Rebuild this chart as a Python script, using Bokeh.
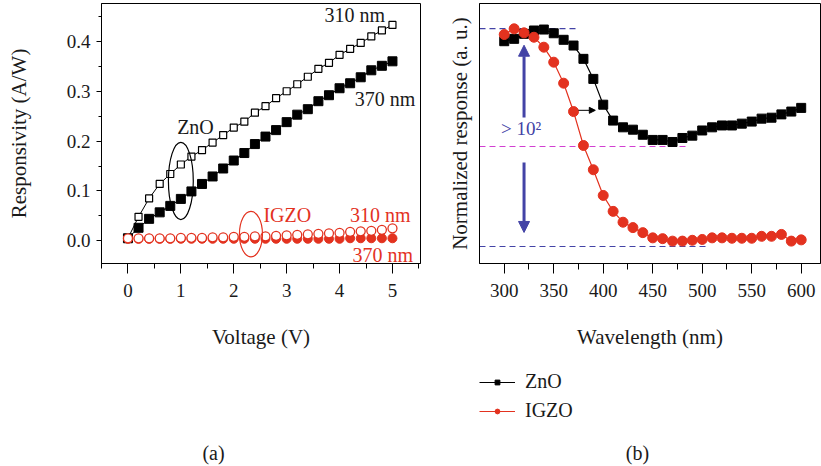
from bokeh.plotting import figure
from bokeh.layouts import row, column
from bokeh.models import (Range1d, Label, Arrow, NormalHead, Legend, LegendItem,
                          FixedTicker, NumeralTickFormatter)
from bokeh.embed import file_html
from bokeh.resources import INLINE

FONT = "Liberation Serif"
FONT_Q = "'Liberation Serif', serif"
RED = "#e3321f"
BLUE = "#4343a6"
MAGENTA = "#d23fd2"
INK = "#1a1a1a"
NAN = float("nan")

# ---------------- data: panel (a) ----------------
voltage = [0.0, 0.2, 0.4, 0.6, 0.8, 1.0, 1.2, 1.4, 1.6, 1.8, 2.0, 2.2, 2.4,
           2.6, 2.8, 3.0, 3.2, 3.4, 3.6, 3.8, 4.0, 4.2, 4.4, 4.6, 4.8, 5.0]
zno_310 = [0.005, 0.048, 0.085, 0.114, 0.134, 0.153, 0.169, 0.182, 0.197, 0.212,
           0.227, 0.239, 0.257, 0.270, 0.286, 0.300, 0.314, 0.329, 0.345, 0.357,
           0.373, 0.385, 0.397, 0.410, 0.422, 0.433]
zno_370 = [0.005, 0.026, 0.044, 0.057, 0.070, 0.084, 0.099, 0.114, 0.129, 0.145,
           0.161, 0.176, 0.194, 0.209, 0.222, 0.238, 0.253, 0.264, 0.280, 0.292,
           0.306, 0.316, 0.328, 0.342, 0.351, 0.360]
igzo_310 = [0.005, 0.005, 0.005, 0.005, 0.005, 0.006, 0.006, 0.006, 0.007, 0.007,
            0.008, 0.008, 0.009, 0.009, 0.010, 0.011, 0.012, 0.013, 0.014, 0.015,
            0.016, 0.018, 0.019, 0.020, 0.022, 0.025]
igzo_370 = [0.004, 0.004, 0.004, 0.004, 0.004, 0.004, 0.004, 0.004, 0.004, 0.004,
            0.004, 0.004, 0.004, 0.004, 0.004, 0.004, 0.004, 0.004, 0.004, 0.004,
            0.004, 0.005, 0.005, 0.005, 0.005, 0.005]
a_xticks = [0, 1, 2, 3, 4, 5]
a_xminor = [-0.5, 0.5, 1.5, 2.5, 3.5, 4.5, 5.5]
a_yticks = [0.0, 0.1, 0.2, 0.3, 0.4]
a_yminor = [-0.05, 0.05, 0.15, 0.25, 0.35, 0.45]

# ---------------- data: panel (b) ----------------
wavelength = [300, 310, 320, 330, 340, 350, 360, 370, 380, 390, 400, 410, 420,
              430, 440, 450, 460, 470, 480, 490, 500, 510, 520, 530, 540, 550,
              560, 570, 580, 590, 600]
zno_resp = [0.765, 0.804, 0.894, 0.959, 0.979, 0.905, 0.788, 0.698, 0.527, 0.345,
            0.200, 0.143, 0.124, 0.118, 0.106, 0.095, 0.095, 0.091, 0.099, 0.104,
            0.116, 0.124, 0.129, 0.129, 0.134, 0.140, 0.149, 0.152, 0.163, 0.173,
            0.187]
igzo_resp = [0.881, 0.994, 0.913, 0.832, 0.674, 0.491, 0.315, 0.173, 0.0845, 0.0506,
             0.0294, 0.0210, 0.0167, 0.0149, 0.0134, 0.0120, 0.0118, 0.0112, 0.0112,
             0.0114, 0.0116, 0.0120, 0.0120, 0.0119, 0.0119, 0.0119, 0.0124, 0.0124,
             0.0129, 0.0112, 0.0115]
b_xticks = [300, 350, 400, 450, 500, 550, 600]
b_xminor = [325, 375, 425, 475, 525, 575, 625]
# reference dashed levels: (end wavelength, level)
dash_x_end = [374, 485, 505]
dash_level = [1.0, 0.0827, 0.01]
dash_color = [BLUE, MAGENTA, BLUE]


def style_axes(p):
    p.xgrid.visible = False
    p.ygrid.visible = False
    p.outline_line_color = "black"
    p.outline_line_alpha = 1.0
    p.outline_line_width = 1
    p.background_fill_color = "white"
    p.border_fill_color = "white"
    for axes in (p.xaxis, p.yaxis):
        axes.axis_line_color = "black"
        axes.major_tick_line_color = "black"
        axes.minor_tick_line_color = "black"
        axes.major_tick_in = 0
        axes.minor_tick_in = 0
        axes.major_label_text_font = FONT_Q
        axes.major_label_text_font_size = "19px"
        axes.major_label_text_color = INK
        axes.axis_label_text_font = FONT_Q
        axes.axis_label_text_font_size = "21px"
        axes.axis_label_text_font_style = "normal"
        axes.axis_label_text_color = INK


# ---------------- panel (a) ----------------
p1 = figure(width=421, height=360, x_range=Range1d(-0.5, 5.53),
            y_range=Range1d(-0.0456, 0.476), output_backend="svg",
            toolbar_location=None, min_border_left=101, min_border_right=1,
            min_border_top=3, min_border_bottom=94)
style_axes(p1)
p1.xaxis.ticker = FixedTicker(ticks=a_xticks, minor_ticks=a_xminor)
p1.yaxis.ticker = FixedTicker(ticks=a_yticks, minor_ticks=a_yminor)
p1.yaxis.formatter = NumeralTickFormatter(format="0.0")
p1.xaxis.major_tick_out = 10
p1.xaxis.minor_tick_out = 5
p1.yaxis.major_tick_out = 5
p1.yaxis.minor_tick_out = 3
p1.xaxis.major_label_standoff = 10
p1.yaxis.major_label_standoff = 6
p1.xaxis.axis_label = "Voltage (V)"
p1.yaxis.axis_label = "Responsivity (A/W)"
p1.xaxis.axis_label_standoff = 25
p1.yaxis.axis_label_standoff = 33

p1.line(voltage, zno_310, line_color="black", line_width=1)
p1.line(voltage, zno_370, line_color="black", line_width=1)
p1.scatter(voltage, zno_310, marker="square", size=7, fill_color="white",
           line_color="black", line_width=1.2)
p1.scatter(voltage, zno_370, marker="square", size=9, fill_color="black",
           line_color="black")
p1.scatter(voltage, igzo_370, marker="circle", size=9, fill_color=RED,
           line_color=RED)
p1.scatter(voltage, igzo_310, marker="circle", size=9, fill_color="white",
           line_color=RED, line_width=1.3)
p1.ellipse(x=[1.0], y=[0.12], width=[0.47], height=[0.155], fill_color=None,
           line_color="black", line_width=1.2)
p1.ellipse(x=[2.325], y=[0.0133], width=[0.435], height=[0.091], fill_color=None,
           line_color=RED, line_width=1.2)

for (tx, ty, txt, col, align) in [
    (4.86, 0.452, "310 nm", INK, "right"),
    (5.43, 0.285, "370 nm", INK, "right"),
    (0.93, 0.2276, "ZnO", INK, "left"),
    (2.56, 0.051, "IGZO", RED, "left"),
    (5.34, 0.051, "310 nm", RED, "right"),
    (5.39, -0.0284, "370 nm", RED, "right"),
]:
    p1.add_layout(Label(x=tx, y=ty, text=txt, text_color=col, text_align=align,
                        text_baseline="middle", text_font=FONT,
                        text_font_size="20px"))

# ---------------- panel (b) ----------------
p2 = figure(width=400, height=360, x_range=Range1d(275, 619.5),
            y_range=Range1d(0.00698, 1.697), y_axis_type="log",
            output_backend="svg", toolbar_location=None, min_border_left=58,
            min_border_right=1, min_border_top=3, min_border_bottom=97)
style_axes(p2)
p2.xaxis.ticker = FixedTicker(ticks=b_xticks, minor_ticks=b_xminor)
p2.xaxis.major_tick_out = 10
p2.xaxis.minor_tick_out = 6
p2.xaxis.major_label_standoff = 10
p2.yaxis.ticker = FixedTicker(ticks=[], minor_ticks=[])
p2.yaxis.major_tick_out = 0
p2.yaxis.minor_tick_out = 0
p2.yaxis.major_label_standoff = 0
p2.xaxis.axis_label = "Wavelength (nm)"
p2.yaxis.axis_label = "Normalized response (a. u.)"
p2.xaxis.axis_label_standoff = 25
p2.yaxis.axis_label_standoff = 8

p2.segment(x0=[275, 275, 275], y0=dash_level, x1=dash_x_end, y1=dash_level,
           line_color=dash_color, line_dash="6 4", line_width=1.2)

p2.line(wavelength, zno_resp, line_color="black", line_width=1.2)
p2.scatter(wavelength, zno_resp, marker="square", size=9, fill_color="black",
           line_color="black")
p2.line(wavelength, igzo_resp, line_color=RED, line_width=1.2)
p2.scatter(wavelength, igzo_resp, marker="circle", size=10, fill_color=RED,
           line_color=RED)

p2.add_layout(Arrow(end=NormalHead(size=11, fill_color=BLUE, line_color=BLUE),
                    x_start=320, y_start=0.153, x_end=320, y_end=0.703,
                    line_color=BLUE, line_width=3))
p2.add_layout(Arrow(end=NormalHead(size=11, fill_color=BLUE, line_color=BLUE),
                    x_start=320, y_start=0.059, x_end=320, y_end=0.01345,
                    line_color=BLUE, line_width=3))
p2.add_layout(Arrow(end=NormalHead(size=6, fill_color="black", line_color="black"),
                    x_start=375, y_start=0.1776, x_end=392, y_end=0.1776,
                    line_color="black", line_width=1))
p2.add_layout(Label(x=317, y=0.1214, text="> 10²", text_color=BLUE,
                    text_align="center", text_baseline="middle", text_font=FONT,
                    text_font_size="19px"))

# ---------------- bottom strip: legend and panel captions ----------------
strip = figure(width=821, height=106, x_range=Range1d(0, 821),
               y_range=Range1d(0, 106), output_backend="svg",
               toolbar_location=None, min_border=0, x_axis_location=None,
               y_axis_location=None, outline_line_color=None)
strip.xgrid.visible = False
strip.ygrid.visible = False
zl = strip.line(x=[NAN], y=[NAN], line_color="black", line_width=1.2)
zs = strip.scatter(x=[NAN], y=[NAN], marker="square", size=6, fill_color="black",
                   line_color="black")
il = strip.line(x=[NAN], y=[NAN], line_color=RED, line_width=1.2)
isc = strip.scatter(x=[NAN], y=[NAN], marker="circle", size=5, fill_color=RED,
                    line_color=RED)
legend = Legend(items=[LegendItem(label="ZnO", renderers=[zl, zs]),
                       LegendItem(label="IGZO", renderers=[il, isc])],
                location=(479, 44), orientation="vertical", glyph_width=36,
                glyph_height=12, label_standoff=10, spacing=6, padding=0,
                margin=0, border_line_color=None, background_fill_alpha=0,
                label_text_font=FONT_Q, label_text_font_size="20px",
                label_text_color=INK, label_height=20)
strip.add_layout(legend)
strip.add_layout(Label(x=213, y=14, x_units="screen", y_units="screen", text="(a)",
                       text_align="center", text_baseline="middle", text_font=FONT,
                       text_font_size="20px", text_color=INK))
strip.add_layout(Label(x=637, y=14, x_units="screen", y_units="screen", text="(b)",
                       text_align="center", text_baseline="middle", text_font=FONT,
                       text_font_size="20px", text_color=INK))

layout = column(row(p1, p2, spacing=0), strip, spacing=0)
open("out.html", "w").write(file_html(layout, INLINE))
